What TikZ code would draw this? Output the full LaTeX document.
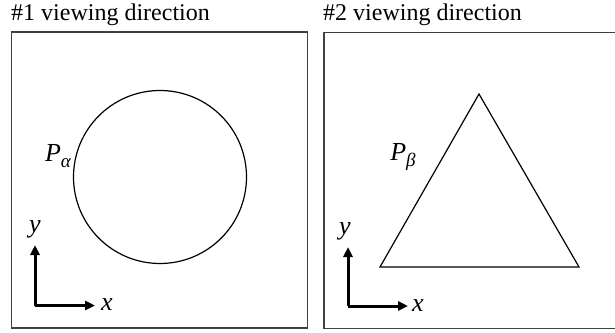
\documentclass[tikz,border=0pt]{standalone}
\usepackage{fontspec}
\setmainfont{Liberation Serif}
\usetikzlibrary{positioning, arrows.meta}
\tikzset{
    viewbox/.style={draw, line width=1.4pt, black!75, minimum width=296pt, minimum height=296pt, inner sep=0pt},
    shapeline/.style={line width=1.2pt, black},
    axisarrow/.style={-{Triangle[length=10pt, width=9pt]}, line width=3pt},
    ttl/.style={font=\fontsize{24}{28}\selectfont, inner sep=0pt, anchor=west},
    lbl/.style={font=\fontsize{26}{30}\selectfont\itshape, inner sep=0pt},
}
\newcommand{\lowsub}[1]{\raisebox{-6pt}{\fontsize{19}{21}\selectfont #1}}
\begin{document}
\begin{tikzpicture}[x=1pt, y=-1pt]
    \useasboundingbox (0,0) rectangle (615,332);
    % titles
    \node[ttl] (ttla) at (11,15) {\#1 viewing direction};
    \node[ttl] (ttlb) at (323,15) {\#2 viewing direction};
    % frames
    \node[viewbox] (boxa) at (159.5,180) {};
    \node[viewbox, minimum width=300pt] (boxb) at (474,180.5) {};
    % view 1: circle
    \node[shapeline, draw, circle, minimum size=173pt, inner sep=0pt] (circ) at (160,177) {};
    \node[lbl] (palpha) at (58,156) {P\lowsub{α}};
    % view 2: triangle
    \coordinate (apex) at (479,94);
    \coordinate (botl) at (380,267);
    \coordinate (botr) at (579,267);
    \draw[shapeline] (apex) -- (botr) -- (botl) -- cycle;
    \node[lbl] (pbeta) at (403,157) {P\lowsub{β}};
    % axes, view 1
    \coordinate (oa) at (35,305.5);
    \coordinate (xa) at (95,305.5);
    \coordinate (ya) at (35,245);
    \draw[axisarrow] (oa) -- (xa);
    \draw[axisarrow] (oa) -- (ya);
    \node[lbl] (xlbla) at (107,305) {x};
    \node[lbl] (ylbla) at (35,229) {y};
    % axes, view 2
    \coordinate (ob) at (348,306);
    \coordinate (xb) at (408,306);
    \coordinate (yb) at (348,247);
    \draw[axisarrow] (ob) -- (xb);
    \draw[axisarrow] (ob) -- (yb);
    \node[lbl] (xlblb) at (418,306) {x};
    \node[lbl] (ylblb) at (345,231) {y};
\end{tikzpicture}
\end{document}
